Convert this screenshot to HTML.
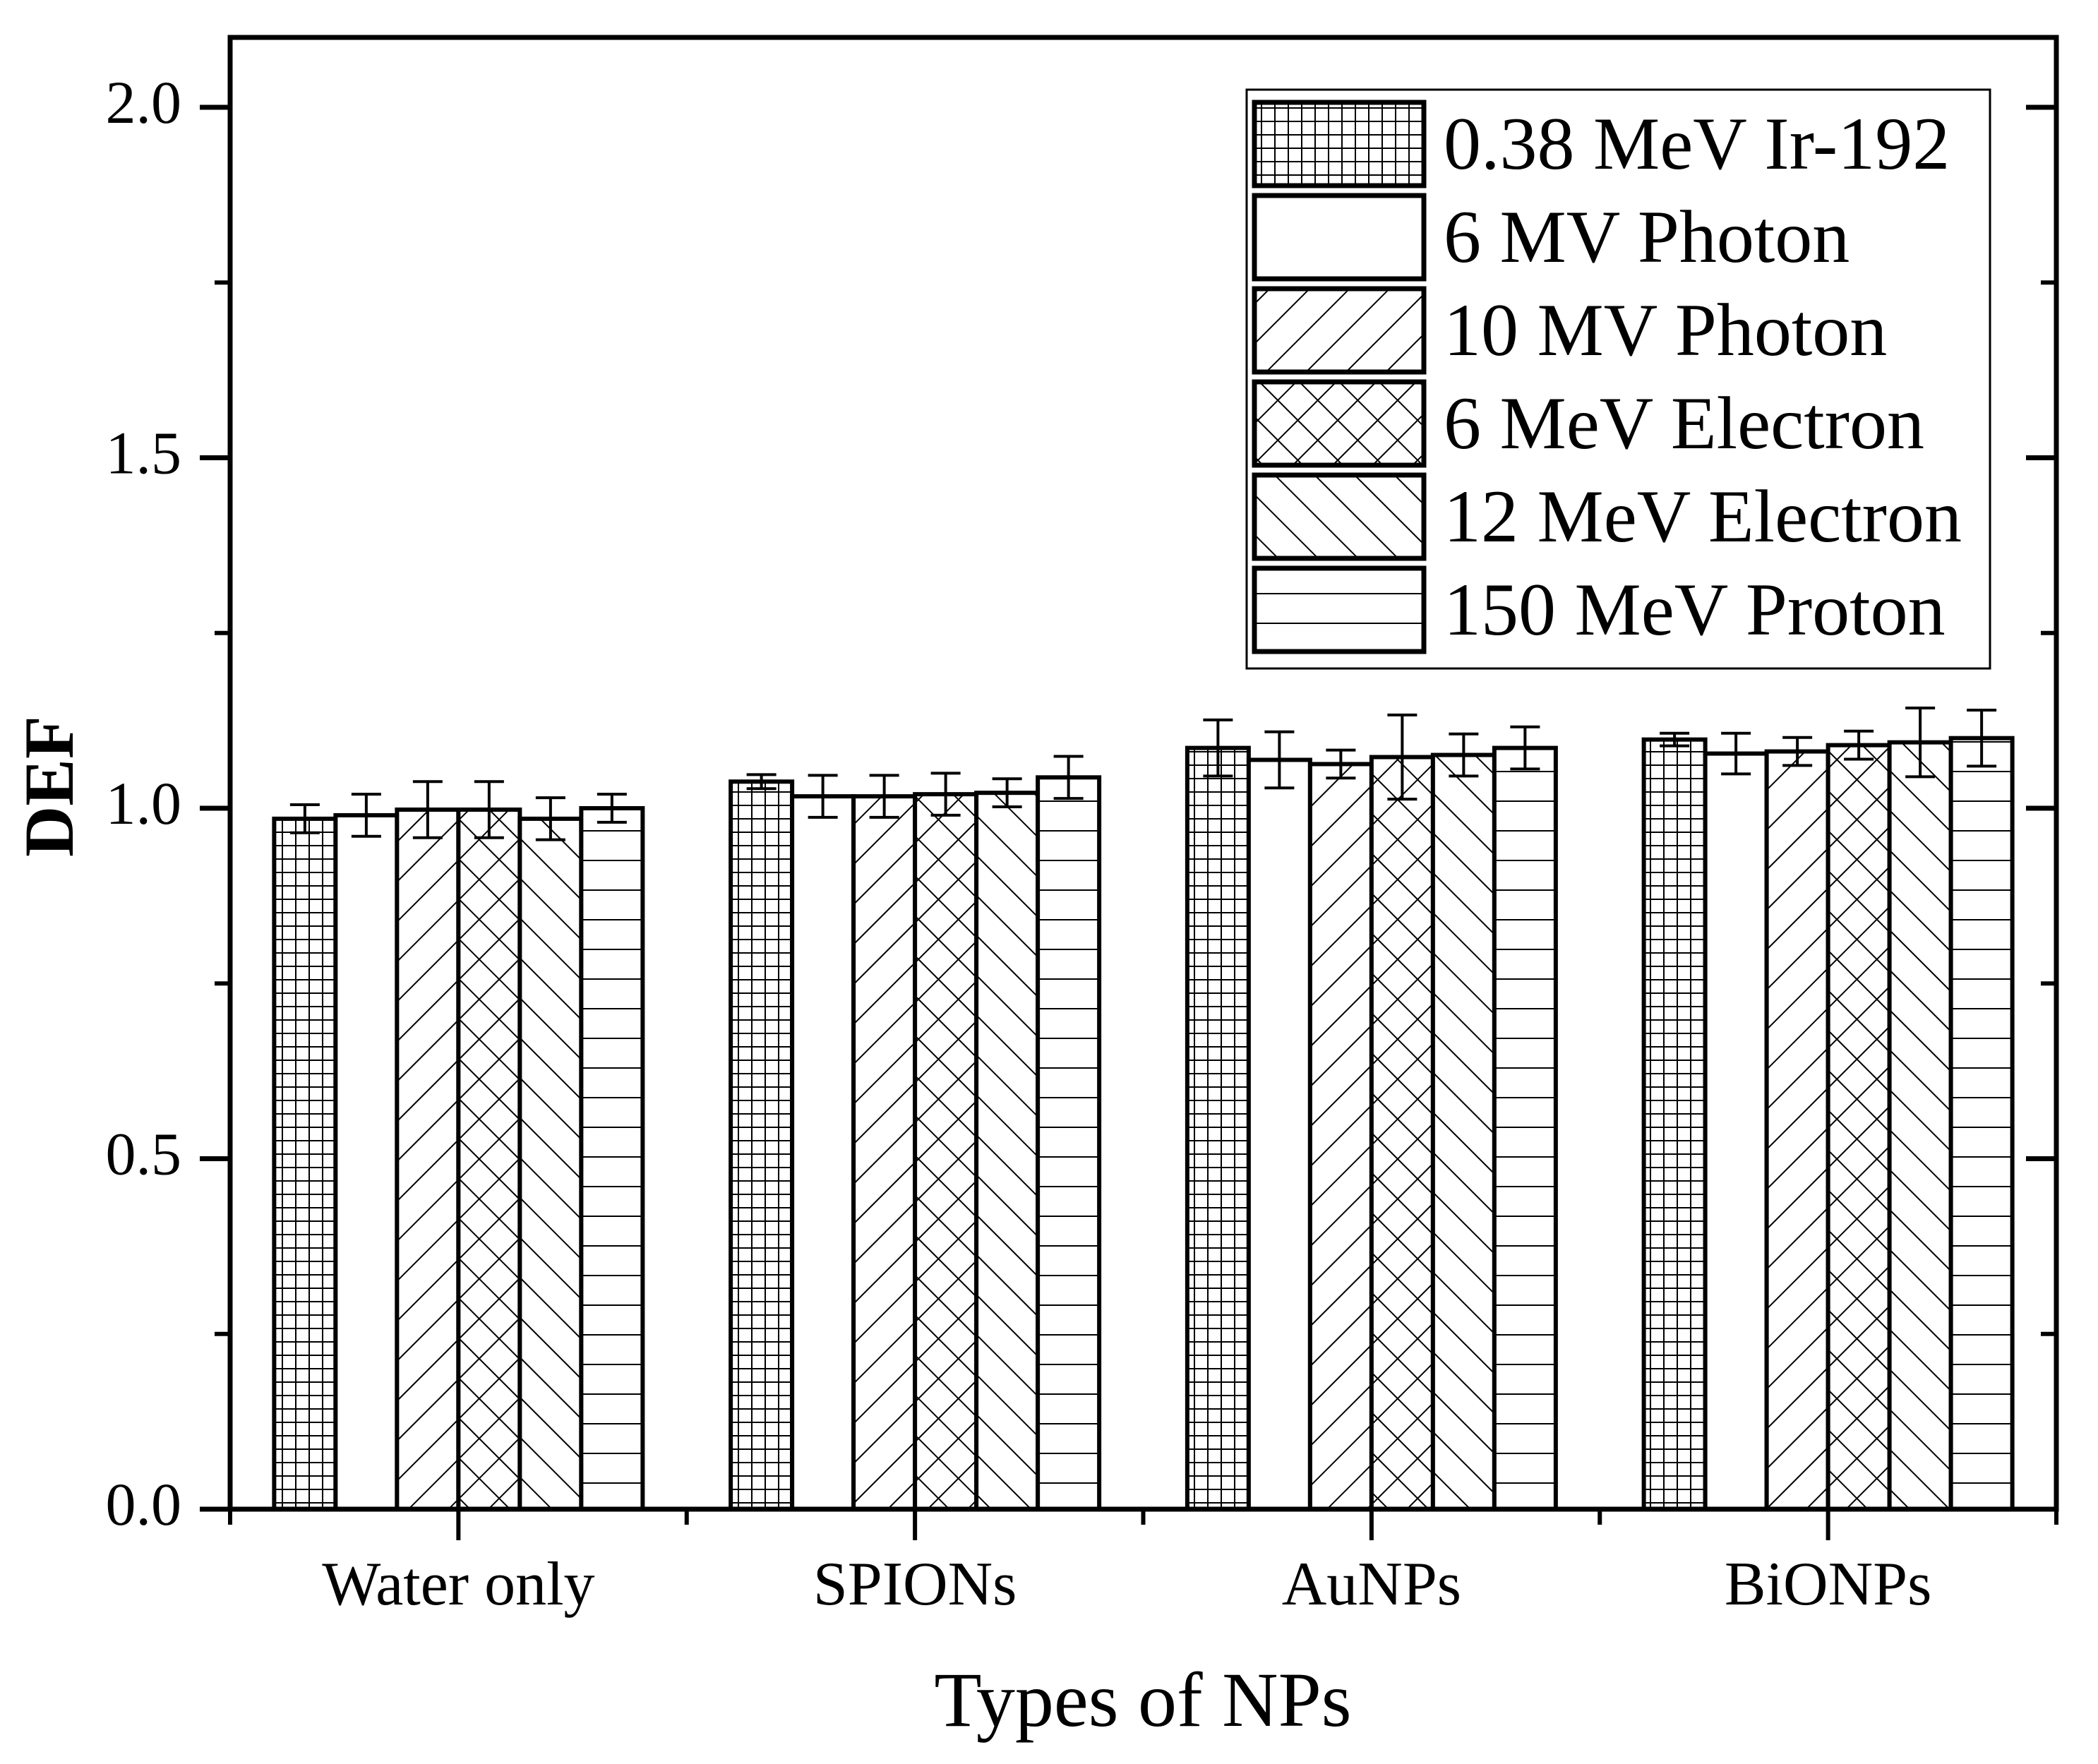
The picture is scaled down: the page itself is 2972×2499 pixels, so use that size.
<!DOCTYPE html>
<html><head><meta charset="utf-8"><style>
html,body{margin:0;padding:0;background:#fff;}
svg{display:block;font-family:"Liberation Serif",serif;}
</style></head><body>
<svg id="chart" width="2972" height="2499" viewBox="0 0 2972 2499" xmlns="http://www.w3.org/2000/svg">
<defs>
<pattern id="p0" patternUnits="userSpaceOnUse" width="19" height="19"><rect width="19" height="19" fill="#fff"/><path d="M0 0V19M0 0H19" stroke="#000" stroke-width="4"/></pattern>
<pattern id="p1" patternUnits="userSpaceOnUse" width="10" height="10"><rect width="10" height="10" fill="#fff"/></pattern>
<pattern id="p2" patternUnits="userSpaceOnUse" width="40" height="40" patternTransform="rotate(45)"><rect width="40" height="40" fill="#fff"/><path d="M0 0V40" stroke="#000" stroke-width="4"/></pattern>
<pattern id="p3" patternUnits="userSpaceOnUse" width="40" height="40" patternTransform="rotate(45)"><rect width="40" height="40" fill="#fff"/><path d="M0 0V40M0 0H40" stroke="#000" stroke-width="4"/></pattern>
<pattern id="p4" patternUnits="userSpaceOnUse" width="40" height="40" patternTransform="rotate(-45)"><rect width="40" height="40" fill="#fff"/><path d="M0 0V40" stroke="#000" stroke-width="4"/></pattern>
<pattern id="p5" patternUnits="userSpaceOnUse" width="40" height="42"><rect width="40" height="42" fill="#fff"/><path d="M0 0H40" stroke="#000" stroke-width="4"/></pattern>
</defs>
<g id="plot"></g>
</svg>
<script>
const categories = ["Water only", "SPIONs", "AuNPs", "BiONPs"];
const seriesNames = ["0.38 MeV Ir-192", "6 MV Photon", "10 MV Photon", "6 MeV Electron", "12 MeV Electron", "150 MeV Proton"];
const irValues = [0.985, 1.038, 1.086, 1.098];
const mv6Values = [0.99, 1.017, 1.069, 1.078];
const mv10Values = [0.998, 1.017, 1.063, 1.081];
const mev6Values = [0.998, 1.02, 1.073, 1.09];
const mev12Values = [0.985, 1.022, 1.076, 1.094];
const protonValues = [1.0, 1.044, 1.086, 1.1];
const irErr = [0.02, 0.01, 0.04, 0.009];
const mv6Err = [0.03, 0.03, 0.04, 0.029];
const mv10Err = [0.04, 0.03, 0.02, 0.02];
const mev6Err = [0.04, 0.03, 0.06, 0.02];
const mev12Err = [0.03, 0.02, 0.03, 0.049];
const protonErr = [0.02, 0.03, 0.03, 0.04];
const yTicks = ["0.0", "0.5", "1.0", "1.5", "2.0"];

const values = [irValues, mv6Values, mv10Values, mev6Values, mev12Values, protonValues];
const errs = [irErr, mv6Err, mv10Err, mev6Err, mev12Err, protonErr];
const L = 326, R = 2913, T = 53, B = 2138, yMax = 2.1;
const y = v => B - v * (B - 152) / 2.0;
const step = (R - L) / categories.length;
const x = i => L + step * (i + 0.5);
const barW = 87;
const NS = "http://www.w3.org/2000/svg";
const g = document.getElementById('plot');
function mk(tag, attrs, parent) {
  const el = document.createElementNS(NS, tag);
  for (const k in attrs) el.setAttribute(k, attrs[k]);
  (parent || g).appendChild(el);
  return el;
}
// bars
values.forEach((ser, s) => {
  ser.forEach((v, i) => {
    const cx = x(i) + (s - 2.5) * barW;
    const r = mk('rect', {x: cx - barW / 2, y: y(v), width: barW, height: B - y(v), fill: 'url(#p' + s + ')', stroke: '#000', 'stroke-width': 6});
    
    
  });
});
// error bars
values.forEach((ser, s) => {
  ser.forEach((v, i) => {
    const cx = x(i) + (s - 2.5) * barW;
    const e = errs[s][i];
    const eg = mk('g', {stroke: '#000', 'stroke-width': 4, fill: 'none'});
    
    
    mk('path', {d: `M${cx} ${y(v + e)}V${y(v - e)}M${cx - 21} ${y(v + e)}H${cx + 21}M${cx - 21} ${y(v - e)}H${cx + 21}`}, eg);
  });
});
// axes frame
const frame = mk('rect', {x: L, y: T, width: R - L, height: B - T, fill: 'none', stroke: '#000', 'stroke-width': 7});


// y ticks
yTicks.forEach((t, k) => {
  const v = parseFloat(t);
  const yy = y(v);
  mk('path', {d: `M${L - 43} ${yy}H${L}M${R - 43} ${yy}H${R}`, stroke: '#000', 'stroke-width': 7});
  if (k < yTicks.length - 1) {
    const ym = y(v + 0.25);
    mk('path', {d: `M${L - 22} ${ym}H${L}M${R - 22} ${ym}H${R}`, stroke: '#000', 'stroke-width': 6});
  }
  const tx = mk('text', {x: 257, y: yy + 22, 'font-size': 86, 'text-anchor': 'end'});
  tx.textContent = t;
  
  
});
// x ticks
for (let i = 0; i <= categories.length; i++) {
  const xx = L + step * i;
  mk('path', {d: `M${xx} ${B}V${B + 22}`, stroke: '#000', 'stroke-width': 6});
}
categories.forEach((c, i) => {
  mk('path', {d: `M${x(i)} ${B}V${B + 44}`, stroke: '#000', 'stroke-width': 6});
  const tx = mk('text', {x: x(i), y: 2273, 'font-size': 88, 'text-anchor': 'middle'});
  tx.textContent = c;
  
  
});
// titles
const xt = mk('text', {x: 1619, y: 2445, 'font-size': 110, 'text-anchor': 'middle'});
xt.textContent = 'Types of NPs';


const yt = mk('text', {x: 0, y: 0, 'font-size': 100, 'font-weight': 'bold', 'text-anchor': 'middle', transform: 'translate(103,1114) rotate(-90)'});
yt.textContent = 'DEF';


// legend
const lg = mk('g', {});


mk('rect', {x: 1766, y: 127, width: 1053, height: 820, fill: '#fff', stroke: '#000', 'stroke-width': 3}, lg);
seriesNames.forEach((n, s) => {
  const top = 145 + s * 132;
  const ent = mk('g', {}, lg);
  
  
  mk('rect', {x: 1777, y: top, width: 240, height: 118, fill: 'url(#p' + s + ')', stroke: '#000', 'stroke-width': 7}, ent);
  const t = mk('text', {x: 2045, y: top + 94, 'font-size': 106}, ent);
  t.textContent = n;
});
</script>
</body></html>
